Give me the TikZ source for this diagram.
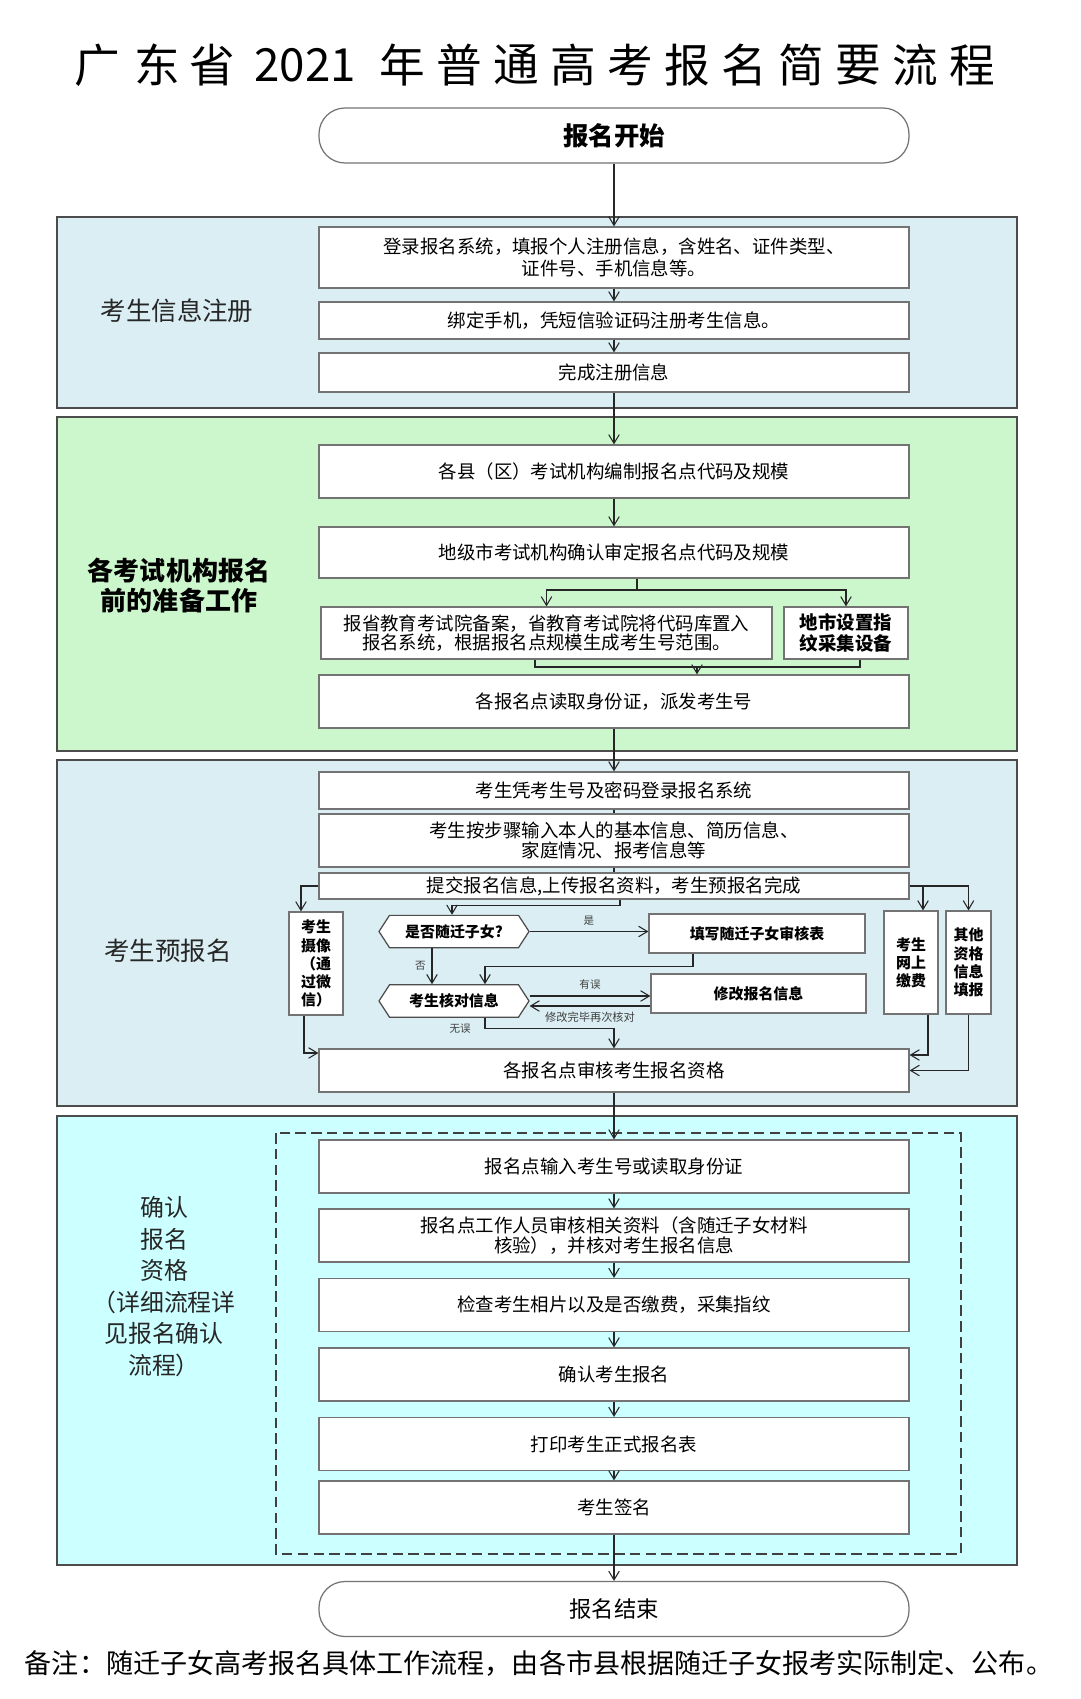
\documentclass[tikz,border=0pt]{standalone}
\usepackage{fontspec}
\setmainfont{Noto Sans CJK SC}
\usepackage{xcolor}
\usepackage{tikz}
\usetikzlibrary{arrows.meta, shapes.misc, calc}

\newdimen\unitpx \unitpx=0.02cm

\definecolor{secblue}{RGB}{218,238,243}
\definecolor{secgreen}{RGB}{204,247,204}
\definecolor{seccyan}{RGB}{204,255,255}

\begin{document}
\begin{tikzpicture}[
    x=0.02cm, y=-0.02cm,
    arr/.style={-{Straight Barb[length=5pt,width=6pt]}, line width=0.6pt, draw=black!85},
    link/.style={line width=0.6pt, draw=black!85},
    box/.style={draw=black!55, fill=white, line width=0.7pt, minimum width=590\unitpx, minimum height=53\unitpx, inner sep=0pt, align=center, font=\fontsize{10.5}{12.5}\selectfont},
    term/.style={box, rounded corners=26\unitpx, minimum height=55\unitpx},
    tall/.style={box, minimum width=54\unitpx, minimum height=103\unitpx, font=\bfseries\fontsize{8.5}{10.3}\selectfont},
    decision/.style={chamfered rectangle, chamfered rectangle angle=33, chamfered rectangle xsep=14\unitpx, chamfered rectangle ysep=9\unitpx, draw=black!70, fill=white, line width=0.7pt, minimum width=150\unitpx, minimum height=31\unitpx, inner sep=0pt, font=\bfseries\fontsize{8.5}{10}\selectfont},
    sect/.style={draw=black!70, line width=1.2pt},
    lbl/.style={font=\fontsize{14.5}{18}\selectfont, text=black!85, align=center},
    tag/.style={font=\fontsize{6}{7}\selectfont, text=black!75},
]
\useasboundingbox (0,0) rectangle (1080,1699);
\fill[white] (0,0) rectangle (1080,1699);

% ---- Titre ----
\foreach \ch/\px [count=\k] in {广/97, 东/157, 省/212, 2021/305, 年/402, 普/459, 通/516, 高/573, 考/630, 报/687, 名/744, 简/801, 要/858, 流/915, 程/972} {
    \node[font=\fontsize{26}{28}\selectfont] (title\k) at (\px, 65) {\ch};
}

% ---- Fonds des quatre étapes ----
\path[sect, fill=secblue] (57,217) rectangle (1017,408);
\path[sect, fill=secgreen] (57,417) rectangle (1017,751);
\path[sect, fill=secblue] (57,760) rectangle (1017,1106);
\path[sect, fill=seccyan] (57,1116) rectangle (1017,1565);
\draw[line width=0.9pt, black!75, dash pattern=on 6pt off 3pt] (276,1133) rectangle (961,1554);

% ---- Début ----
\node[term, font=\bfseries\fontsize{14.5}{16}\selectfont] (start) at (614,135.5) {报名开始};

% ---- Étape 1 ----
\node[lbl] (lab1) at (177,311) {考生信息注册};
\node[box, minimum height=61\unitpx] (reg1) at (614,257.5) {登录报名系统，填报个人注册信息，含姓名、证件类型、\\证件号、手机信息等。};
\node[box, minimum height=37\unitpx] (reg2) at (614,320.5) {绑定手机，凭短信验证码注册考生信息。};
\node[box, minimum height=39\unitpx] (reg3) at (614,372.5) {完成注册信息};

% ---- Étape 2 ----
\node[lbl, font=\bfseries\fontsize{14.8}{17}\selectfont, text=black] (lab2) at (179,585.5) {各考试机构报名\\前的准备工作};
\node[box] (prep1) at (614,471.5) {各县（区）考试机构编制报名点代码及规模};
\node[box, minimum height=51\unitpx] (prep2) at (614,552.5) {地级市考试机构确认审定报名点代码及规模};
\node[box, minimum width=451\unitpx, minimum height=52\unitpx, font=\fontsize{10.5}{10.5}\selectfont] (prep3) at (546.5,633) {报省教育考试院备案，省教育考试院将代码库置入\\报名系统，根据报名点规模生成考生号范围。};
\node[box, minimum width=124\unitpx, minimum height=52\unitpx, font=\bfseries\fontsize{10.5}{12.3}\selectfont] (prep4) at (846,633) {地市设置指\\纹采集设备};
\node[box] (prep5) at (614,701.5) {各报名点读取身份证，派发考生号};

% ---- Étape 3 ----
\node[lbl] (lab3) at (168,951) {考生预报名};
\node[box, minimum height=37\unitpx] (pre1) at (614,790.5) {考生凭考生号及密码登录报名系统};
\node[box, font=\fontsize{10.5}{11}\selectfont] (pre2) at (614,840.5) {考生按步骤输入本人的基本信息、简历信息、\\家庭情况、报考信息等};
\node[box, minimum height=26\unitpx] (pre3) at (614,886) {提交报名信息,上传报名资料，考生预报名完成};
\node[tall] (photo) at (316,963.5) {考生\\摄像\\（通\\过微\\信）};
\node[tall] (pay) at (911,962.5) {考生\\网上\\缴费};
\node[tall, minimum width=45\unitpx] (other) at (968.5,962.5) {其他\\资格\\信息\\填报};
\node[decision] (kid) at (454,931.5) {是否随迁子女?};
\node[box, minimum width=216\unitpx, minimum height=39\unitpx, font=\bfseries\fontsize{8.5}{10}\selectfont] (kidform) at (757,933.5) {填写随迁子女审核表};
\node[decision] (check) at (454,1001) {考生核对信息};
\node[box, minimum width=215\unitpx, minimum height=39\unitpx, font=\bfseries\fontsize{8.5}{10}\selectfont] (fix) at (758.5,993.5) {修改报名信息};
\node[box, minimum height=43\unitpx] (audit) at (614,1070.5) {各报名点审核考生报名资格};

% ---- Étape 4 ----
\node[lbl, font=\fontsize{13.6}{17.9}\selectfont] (lab4) at (164,1286.5) {确认\\报名\\资格\\（详细流程详\\见报名确认\\流程）};
\foreach \name/\yy/\txt in {conf1/1166.5/{报名点输入考生号或读取身份证}, conf2/1235.5/{报名点工作人员审核相关资料（含随迁子女材料\\核验），并核对考生报名信息}, conf3/1305/{检查考生相片以及是否缴费，采集指纹}, conf4/1374.5/{确认考生报名}, conf5/1444/{打印考生正式报名表}, conf6/1507.5/{考生签名}} {
    \node[box, font=\fontsize{10.5}{11}\selectfont] (\name) at (614,\yy) {\txt};
}

% ---- Fin et remarque ----
\node[term, font=\fontsize{12.7}{14}\selectfont] (finish) at (614,1609) {报名结束};
\node[font=\fontsize{15.4}{17}\selectfont] (note) at (539,1663) {备注：随迁子女高考报名具体工作流程，由各市县根据随迁子女报考实际制定、公布。};

% ---- Liaisons ----
\draw[arr] (start) -- (reg1);
\draw[arr] (reg1) -- (reg2);
\draw[arr] (reg2) -- (reg3);
\draw[arr] (reg3) -- (prep1);
\draw[arr] (prep1) -- (prep2);
\coordinate (fork) at (637,590);
\draw[link] (prep2.south -| fork) -- (fork);
\draw[arr] (fork) -| (prep3.north);
\draw[arr] (fork) -| (prep4.north);
\coordinate (merge) at (697,667);
\draw[link] ([xshift=-11.5\unitpx]prep3.south) |- (merge);
\draw[link] ([xshift=14\unitpx]prep4.south) |- (merge);
\draw[arr] (merge) -- (merge |- prep5.north);
\draw[arr] (prep5) -- (pre1);
\draw[link] (pre1) -- (pre2);
\draw[link] (pre2) -- (pre3);

\draw[arr] (pre3.west) -| ([xshift=-15\unitpx]photo.north);
\draw[arr] ([xshift=6\unitpx]pre3.south) -- ++(0,6) -| ([xshift=-2\unitpx]kid.north);
\coordinate (payin) at ($(pay.north)+(12,0)$);
\draw[arr] (pre3.east) -| (other.north);
\draw[arr] (payin |- pre3.east) -- (payin);

\draw[arr] (kid.east) -- (kid.east -| kidform.west) node[midway, above, tag] {是};
\draw[arr] ([xshift=-22\unitpx]kid.south) -- ([xshift=-22\unitpx]check.north) node[midway, left, tag] {否};
\draw[arr] ([xshift=-64\unitpx]kidform.south) -- ++(0,13) -| ([xshift=31\unitpx]check.north);
\coordinate (chk1) at ([yshift=5\unitpx]check.east);
\coordinate (chk2) at ([yshift=-5\unitpx]check.east);
\draw[arr] (chk1) -- (chk1 -| fix.west) node[midway, above, tag] {有误};
\draw[arr] (chk2 -| fix.west) -- (chk2) node[midway, below, font=\fontsize{6.4}{7}\selectfont, text=black!75] {修改完毕再次核对};
\draw[arr] ([xshift=31\unitpx]check.south) -- ++(0,11) node[left=8\unitpx, tag] {无误} -| (audit.north);

\draw[arr] ([xshift=-12\unitpx]photo.south) |- ([yshift=17.5\unitpx]audit.west);
\draw[arr] ([xshift=17\unitpx]pay.south) |- ([yshift=15.5\unitpx]audit.east);
\draw[arr] (other.south) |- (audit.east);

\draw[arr] (audit) -- (conf1);
\foreach \a/\b in {conf1/conf2, conf2/conf3, conf3/conf4, conf4/conf5, conf5/conf6} {
    \draw[arr] (\a) -- (\b);
}
\draw[arr] (conf6) -- (finish);

\end{tikzpicture}
\end{document}
